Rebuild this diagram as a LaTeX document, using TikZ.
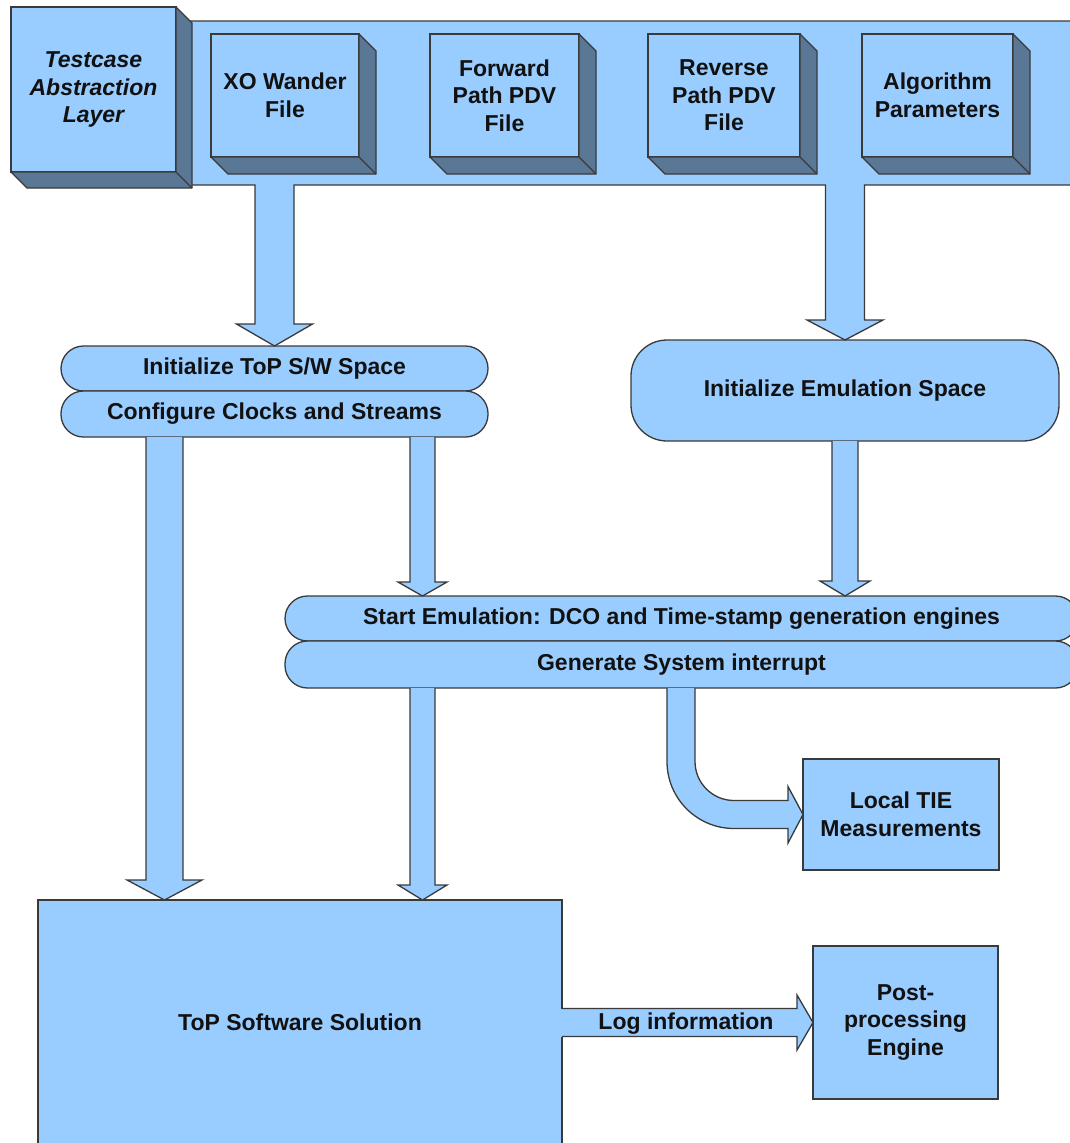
\documentclass[tikz,border=0pt]{standalone}
\usepackage{fontspec}
\setmainfont{Liberation Sans}
\usetikzlibrary{calc}

\definecolor{boxfill}{HTML}{99CCFF}
\definecolor{boxside}{HTML}{5A7896}
\definecolor{boxline}{HTML}{3A3A3A}
\definecolor{ink}{HTML}{111111}

\tikzset{
  base/.style={draw=boxline, fill=boxfill, line width=1.3pt},
  txt/.style={font=\fontsize{23}{27.5}\selectfont\bfseries, align=center, text=ink},
  txti/.style={font=\fontsize{23}{27.5}\selectfont\bfseries\itshape, align=center, text=ink},
  cube/.style={base, rectangle, inner sep=0pt, outer sep=0pt},
  capsule/.style={base, txt, rectangle, rounded corners=22.5pt, inner sep=0pt, outer sep=0pt},
  flatbox/.style={base, txt, rectangle, inner sep=0pt, outer sep=0pt},
  side/.style={draw=boxline, fill=boxside, line width=1.3pt, line join=round},
  blk/.style={draw=boxline, fill=boxfill, line width=1.3pt, line join=miter},
}

% extruded right/bottom faces of a 3D box
\newcommand\extrude[2]{%
  \draw[side] (#1.north east) -- ++(#2,#2) -- ($(#1.south east)+(#2,#2)$)
    -- ($(#1.south west)+(#2,#2)$) -- (#1.south west) -- (#1.south east) -- cycle;
  \draw[side] (#1.south east) -- ++(#2,#2);
}

% vertical block arrow: source, target, column, half shaft, half head, head length
\newcommand\vblk[6]{%
  \draw[blk] ($(#1 -| #3)+(-#4,0)$) -- ($(#2 -| #3)+(-#4,-#6)$)
    -- ($(#2 -| #3)+(-#5,-#6)$) -- (#2 -| #3) -- ($(#2 -| #3)+(#5,-#6)$)
    -- ($(#2 -| #3)+(#4,-#6)$) -- ($(#1 -| #3)+(#4,0)$);
}

\begin{document}
\begin{tikzpicture}[x=1pt, y=-1pt]
\path[use as bounding box, fill=white] (0,0) rectangle (1070,1143);

% column positions of the block arrows
\coordinate (cA) at (164.5,0);
\coordinate (cB) at (422.5,0);
\coordinate (cC) at (845,0);
\coordinate (cD) at (681,0);
\coordinate (barBot) at (0,185);

% capsules and boxes
\node[capsule, minimum width=427pt, minimum height=45pt] (ini) at (274.5,368.5) {Initialize ToP S/W Space};
\node[capsule, minimum width=427pt, minimum height=46pt] (cfg) at (274.5,414) {Configure Clocks and Streams};
\node[flatbox, rounded corners=36pt, minimum width=428pt, minimum height=101pt] (emu) at (845,390.5) {Initialize Emulation Space};
\node[capsule, minimum width=793pt, minimum height=45pt] (start) at (681.5,618.5) {Start Emulation: DCO and Time-stamp generation engines};
\node[capsule, minimum width=793pt, minimum height=47pt] (gen) at (681.5,664.5) {Generate System interrupt};
\node[flatbox, minimum width=196pt, minimum height=111pt] (tie) at (901,814.5) {Local TIE\\Measurements};
\node[flatbox, minimum width=524pt, minimum height=245pt] (top) at (300,1022.5) {ToP Software Solution};
\node[flatbox, minimum width=185pt, minimum height=153pt] (post) at (905.5,1022.5) {Post-\\processing\\Engine};

% input bar with its two down arrows
\draw[blk] (150,21) -- (1090,21) -- (1090,185)
  -- ($(emu.north |- barBot)+(19.5,0)$) -- ($(emu.north)+(19.5,-20)$) -- ($(emu.north)+(38,-20)$)
  -- (emu.north) -- ($(emu.north)+(-38,-20)$) -- ($(emu.north)+(-19.5,-20)$)
  -- ($(emu.north |- barBot)+(-19.5,0)$)
  -- ($(ini.north |- barBot)+(19.5,0)$) -- ($(ini.north)+(19.5,-22)$) -- ($(ini.north)+(38,-22)$)
  -- (ini.north) -- ($(ini.north)+(-38,-22)$) -- ($(ini.north)+(-19.5,-22)$)
  -- ($(ini.north |- barBot)+(-19.5,0)$) -- (150,185) -- cycle;

% 3D input boxes
\node[cube, txti, minimum width=165pt, minimum height=165pt] (tal) at (93.5,89.5) {Testcase\\Abstraction\\Layer};
\extrude{tal}{16}
\node[cube, txt, minimum width=148pt, minimum height=123pt] (xo) at (285,95.5) {XO Wander\\File};
\extrude{xo}{17}
\node[cube, txt, minimum width=149pt, minimum height=123pt] (fwd) at (504.5,95.5) {Forward\\Path PDV\\File};
\extrude{fwd}{17}
\node[cube, txt, minimum width=152pt, minimum height=123pt] (rev) at (724,95.5) {Reverse\\Path PDV\\File};
\extrude{rev}{17}
\node[cube, txt, minimum width=151pt, minimum height=123pt] (alg) at (937.5,95.5) {Algorithm\\Parameters};
\extrude{alg}{17}

% vertical block arrows
\vblk{cfg.south}{top.north}{cA}{18.5}{37.5}{20}
\vblk{cfg.south}{start.north}{cB}{12.5}{24.5}{14}
\vblk{emu.south}{start.north}{cC}{13}{25}{15}
\vblk{gen.south}{top.north}{cB}{12.5}{24.5}{15}

% bent arrow to the TIE measurements
\draw[blk] ($(gen.south -| cD)+(-14,0)$) -- (667,761.5)
  .. controls (667,798.5) and (697,828.5) .. (734,828.5)
  -- ($(tie.west)+(-15,14)$) -- ($(tie.west)+(-15,28.5)$) -- (tie.west)
  -- ($(tie.west)+(-15,-28)$) -- ($(tie.west)+(-15,-14)$) -- (734,800.5)
  .. controls (712.5,800.5) and (695,783) .. (695,761.5)
  -- ($(gen.south -| cD)+(14,0)$);

% log arrow out of the software box
\fill[boxfill] ($(top.east)+(-2,-14)$) rectangle ($(top.east)+(2,14)$);
\draw[blk] ($(top.east)+(0,-14)$) -- ($(post.west)+(-16,-14)$) -- ($(post.west)+(-16,-27.5)$)
  -- (post.west) -- ($(post.west)+(-16,27.5)$) -- ($(post.west)+(-16,14)$) -- ($(top.east)+(0,14)$);
\node[txt] (log) at ($(top.east)!0.5!(post.west)+(-1.5,1)$) {Log information};
\end{tikzpicture}
\end{document}
